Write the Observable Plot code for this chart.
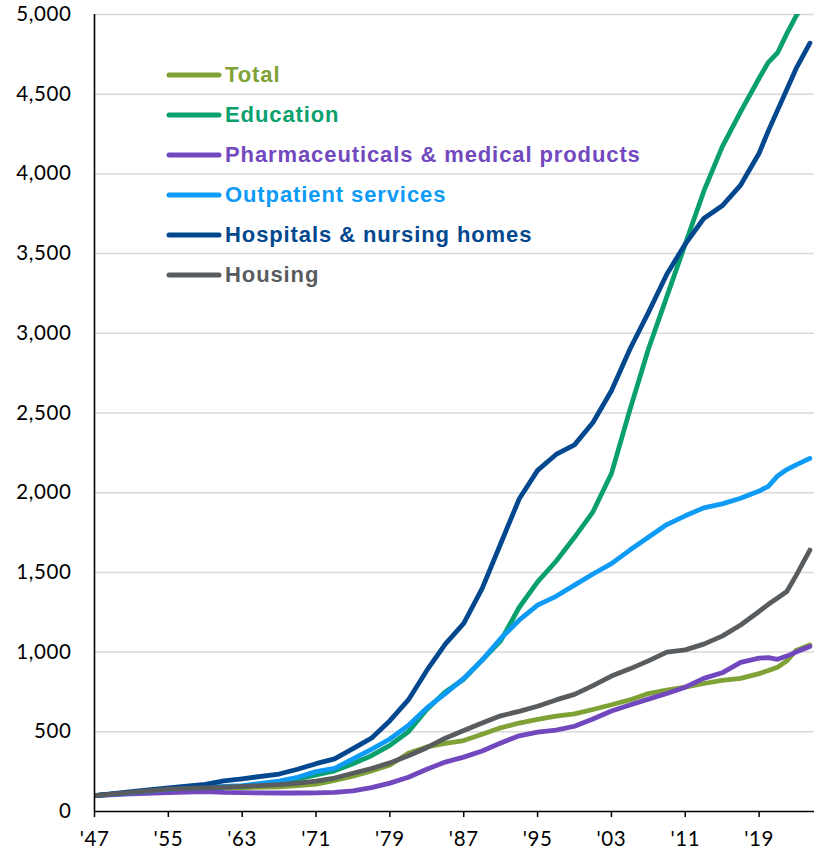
<!DOCTYPE html>
<html>
<head>
<meta charset="utf-8">
<script src="https://cdn.jsdelivr.net/npm/d3@7"></script>
<script src="https://cdn.jsdelivr.net/npm/@observablehq/plot@0.6"></script>
<style>
  html, body { margin: 0; padding: 0; background: #fff; }
  #wrap { position: relative; width: 821px; height: 853px; }
  #wrap svg text { letter-spacing: 0.6px; }
  #legend { position: absolute; left: 166px; top: 55px; font-family: "Liberation Sans", Arial, sans-serif; font-weight: bold; font-size: 22px; letter-spacing: 0.9px; }
  .row { display: flex; align-items: center; height: 40px; }
  .row svg { display: block; margin-right: 3px; }
</style>
</head>
<body>
<div id="wrap"><div id="legend"></div></div>
<script>
const years = [1947,1951,1955,1959,1961,1963,1967,1969,1971,1973,1975,1977,1979,1981,1983,1985,1987,1989,1991,1993,1995,1997,1999,2001,2003,2005,2007,2009,2011,2013,2015,2017,2019,2020,2021,2022,2023,2024.5];

const total      = [100,118,135,145,148,150,155,162,172,195,222,255,292,365,405,428,445,485,525,555,578,598,612,640,670,700,740,762,780,803,822,835,865,884,905,945,1010,1045];
const education  = [100,118,135,150,155,158,180,205,230,255,300,350,415,500,640,750,830,950,1070,1280,1440,1570,1720,1880,2120,2520,2900,3230,3560,3890,4170,4390,4600,4700,4760,4880,4990,5120];
const pharma     = [100,110,118,125,120,118,116,116,117,120,130,150,178,215,265,310,341,380,430,475,498,510,535,580,630,668,705,740,780,835,870,935,962,965,955,975,1000,1035];
const outpatient = [100,118,140,152,158,162,190,215,250,270,330,390,455,540,650,740,835,950,1085,1200,1295,1350,1420,1490,1555,1640,1720,1800,1855,1905,1930,1965,2010,2040,2105,2145,2175,2215];
const hospitals  = [100,125,148,170,192,205,235,265,300,330,395,460,570,700,885,1050,1180,1400,1680,1960,2140,2240,2300,2440,2640,2900,3130,3370,3560,3720,3800,3930,4130,4270,4400,4530,4660,4820];
const housing    = [100,120,140,148,152,158,168,178,190,210,240,270,305,350,400,460,508,555,600,628,660,700,735,790,850,895,945,1000,1014,1050,1100,1170,1255,1300,1340,1380,1480,1640];

const seriesNames  = ["Total","Education","Pharmaceuticals & medical products","Outpatient services","Hospitals & nursing homes","Housing"];
const seriesValues = [total, education, pharma, outpatient, hospitals, housing];
const seriesColors = ["#7FA237","#0AA06E","#7248BE","#0E9BF5","#03488E","#595C5F"];

const xTicks = [1947,1955,1963,1971,1979,1987,1995,2003,2011,2019];
const yTicks = [0,500,1000,1500,2000,2500,3000,3500,4000,4500,5000];

const data = [];
seriesNames.forEach((name, i) => {
  years.forEach((yr, j) => data.push({series: name, year: yr, value: seriesValues[i][j]}));
});

const font = "Lato, 'Open Sans', sans-serif";

const chart = Plot.plot({
  width: 821,
  height: 853,
  marginLeft: 94,
  marginRight: 7,
  marginTop: 14,
  marginBottom: 42,
  style: {fontFamily: font, fontSize: "20px", color: "#000", background: "#fff"},
  x: {domain: [1947, 2025], label: null},
  y: {domain: [0, 5000], label: null},
  color: {domain: seriesNames, range: seriesColors},
  marks: [
    Plot.gridY(yTicks.filter(d => d > 0), {stroke: "#d9d9d9", strokeOpacity: 1, strokeWidth: 1.5}),
    Plot.axisY(yTicks, {tickSize: 0, tickPadding: 23, tickFormat: d3.format(","), fontSize: 20.5, label: null}),
    Plot.axisX(xTicks, {tickSize: 6, tickPadding: 14, tickFormat: d => "'" + String(d).slice(2), fontSize: 20.5, label: null, stroke: "#000", strokeWidth: 1.5}),
    Plot.lineY(data, {x: "year", y: "value", z: "series", stroke: "series", strokeWidth: 4.8, strokeLinecap: "round", strokeLinejoin: "round", clip: true}),
    Plot.ruleX([1947], {stroke: "#000", strokeWidth: 1.6}),
    Plot.ruleY([0], {stroke: "#000", strokeWidth: 1.6})
  ]
});

document.getElementById("wrap").prepend(chart);

const legend = document.getElementById("legend");
seriesNames.forEach((name, i) => {
  const row = document.createElement("div");
  row.className = "row";
  row.innerHTML = `<svg width="56" height="10"><line x1="3" y1="5" x2="53" y2="5" stroke="${seriesColors[i]}" stroke-width="5" stroke-linecap="round"/></svg><span style="color:${seriesColors[i]}">${name.replace("&", "&amp;")}</span>`;
  legend.appendChild(row);
});
</script>
</body>
</html>
